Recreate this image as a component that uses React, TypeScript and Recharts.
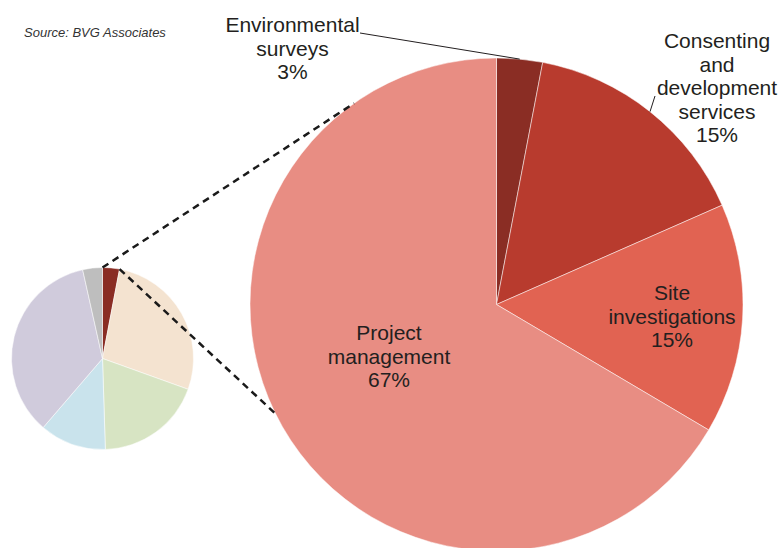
import { Cell, Pie, PieChart } from 'recharts';

const bigCategories = [
  'Environmental surveys',
  'Consenting and development services',
  'Site investigations',
  'Project management',
];
const bigLabelLines = [
  ['Environmental', 'surveys'],
  ['Consenting', 'and', 'development', 'services'],
  ['Site', 'investigations'],
  ['Project', 'management'],
];
// shares; labels show them rounded
const bigValues = [3.0, 15.4, 15.1, 66.5];

const smallCategories = [
  'Development and project management',
  'Turbine',
  'Balance of plant',
  'Installation and commissioning',
  'Operation, maintenance and service',
  'Decommissioning',
];
const smallValues = [3, 27.5, 19, 11.8, 35.2, 3.5];

const bigColors = ['#8a2d24', '#b83b2e', '#e16352', '#e88d83'];
const smallColors = ['#8a2d24', '#f4e3d0', '#d7e4c3', '#c9e3ec', '#d0cbdc', '#bebebe'];

const W = 779;
const H = 548;
const BIG = { cx: 496.5, cy: 304.5, r: 246.5 };
const SMALL = { cx: 102.5, cy: 358.5, r: 91 };
const FONT = '"Liberation Sans", Arial, Helvetica, sans-serif';
const TEXT = '#231f20';
const LINE_H = 23.5;

// label anchor: centre x and first baseline; lead = end of leader line near the text
const labelLayout = [
  { x: 292.5, y: 32, lead: { x: 360, y: 33 } },
  { x: 717, y: 48, lead: { x: 655, y: 96 } },
  { x: 672, y: 300 },
  { x: 389, y: 340 },
];

const bigData = bigCategories.map((name, i) => ({ name, value: bigValues[i] }));
const smallData = smallCategories.map((name, i) => ({ name, value: smallValues[i] }));

// angle measured clockwise from 12 o'clock
function polar(c: { cx: number; cy: number }, r: number, deg: number) {
  const a = (deg * Math.PI) / 180;
  return { x: c.cx + r * Math.sin(a), y: c.cy - r * Math.cos(a) };
}

function renderBigLabel(props: any) {
  const { index, cx, cy, midAngle, outerRadius, value } = props;
  const pos = labelLayout[index];
  const lines = [...bigLabelLines[index], `${Math.round(value)}%`];
  const rad = (-midAngle * Math.PI) / 180;
  const edge = { x: cx + outerRadius * Math.cos(rad), y: cy + outerRadius * Math.sin(rad) };
  return (
    <g key={`lbl-${index}`}>
      {pos.lead && (
        <line x1={pos.lead.x} y1={pos.lead.y} x2={edge.x} y2={edge.y} stroke="#231f20" strokeWidth={1} />
      )}
      <text x={pos.x} y={pos.y} textAnchor="middle" fill={TEXT} fontSize={21} fontFamily={FONT}>
        {lines.map((l, k) => (
          <tspan key={k} x={pos.x} y={pos.y + k * LINE_H}>
            {l}
          </tspan>
        ))}
      </text>
    </g>
  );
}

export default function App() {
  const smallTotal = smallValues.reduce((a, b) => a + b, 0);
  const firstEnd = (smallValues[0] / smallTotal) * 360;
  const connectors = [
    { from: polar(SMALL, SMALL.r, 0), to: polar(BIG, BIG.r, 324.7) },
    { from: polar(SMALL, SMALL.r, firstEnd), to: polar(BIG, BIG.r, 243.7) },
  ];

  return (
    <div style={{ position: 'absolute', left: 0, top: 0, width: W, height: H, background: '#fff', fontFamily: FONT }}>
      <PieChart width={W} height={H} margin={{ top: 0, right: 0, bottom: 0, left: 0 }}>
        <Pie
          data={smallData}
          dataKey="value"
          nameKey="name"
          cx={SMALL.cx}
          cy={SMALL.cy}
          outerRadius={SMALL.r}
          startAngle={90}
          endAngle={-270}
          stroke="#ffffff"
          strokeWidth={0.5}
          label={false}
          labelLine={false}
          isAnimationActive={false}
        >
          {smallData.map((d, i) => (
            <Cell key={d.name} fill={smallColors[i]} />
          ))}
        </Pie>
        <Pie
          data={bigData}
          dataKey="value"
          nameKey="name"
          cx={BIG.cx}
          cy={BIG.cy}
          outerRadius={BIG.r}
          startAngle={90}
          endAngle={-270}
          stroke="#ffffff"
          strokeWidth={0.5}
          label={renderBigLabel}
          labelLine={false}
          isAnimationActive={false}
        >
          {bigData.map((d, i) => (
            <Cell key={d.name} fill={bigColors[i]} />
          ))}
        </Pie>
      </PieChart>
      <svg width={W} height={H} style={{ position: 'absolute', left: 0, top: 0, pointerEvents: 'none' }}>
        <text x={24} y={37} fontSize={13} fontStyle="italic" fill="#333" fontFamily={FONT}>
          Source: BVG Associates
        </text>
        {connectors.map((c, i) => (
          <line
            key={i}
            x1={c.from.x}
            y1={c.from.y}
            x2={c.to.x}
            y2={c.to.y}
            stroke="#1a1a1a"
            strokeWidth={2.5}
            strokeDasharray="7 5"
          />
        ))}
      </svg>
    </div>
  );
}
